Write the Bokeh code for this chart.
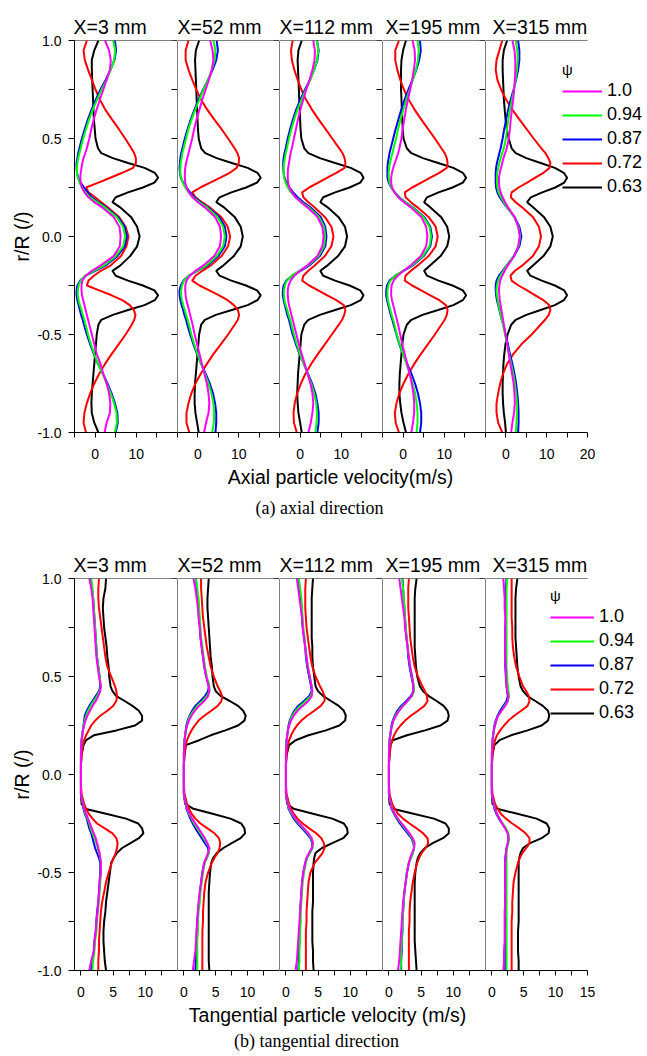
from bokeh.plotting import figure
from bokeh.models import (Range1d, LinearAxis, FixedTicker, NumeralTickFormatter,
                          CustomJSTickFormatter, Legend, LegendItem, Label, ColumnDataSource)
from bokeh.layouts import row, column
from bokeh.embed import file_html
from bokeh.resources import INLINE

SANS = "Liberation Sans"
SERIF = "Liberation Serif"

# ---------------- data ----------------
R = [1.0, 0.95, 0.9, 0.85, 0.8, 0.75, 0.7, 0.65, 0.6, 0.55, 0.5,
     0.45, 0.425, 0.4, 0.375, 0.35, 0.325, 0.3, 0.275, 0.25, 0.225, 0.2, 0.175, 0.15,
     0.1, 0.05, 0.0, -0.05, -0.1,
     -0.15, -0.175, -0.2, -0.225, -0.25, -0.275, -0.3, -0.325, -0.35, -0.375, -0.4, -0.425, -0.45,
     -0.5, -0.55, -0.6, -0.65, -0.7, -0.75, -0.8, -0.85, -0.9, -0.95, -1.0]

PSI = ["1.0", "0.94", "0.87", "0.72", "0.63"]
COLORS = ["#ff00ff", "#00ff00", "#0000ff", "#ff0000", "#000000"]
POSITIONS = ["X=3 mm", "X=52 mm", "X=112 mm", "X=195 mm", "X=315 mm"]

# ---- (a) axial particle velocity (m/s) ----
ax_x3_psi100 = [2.4, 3.4, 3.8, 3.6, 2.8, 2.0, 1.2, 0.4, -0.3, -0.9, -1.4, -2.0, -2.4, -2.8, -3.1, -3.3, -3.5, -3.6, -3.5, -3.2, -2.6, -1.6, -0.2, 1.6, 4.5, 5.9, 6.2,
                6.0, 4.5, 1.2, -0.8, -2.3, -3.1, -3.3, -3.3, -3.2, -2.9, -2.6, -2.3, -2.0, -1.7, -1.4, -0.8, -0.2, 0.4, 1.3, 2.0, 2.8, 3.4, 3.7, 3.6, 2.8, 2.3]
ax_x3_psi094 = [4.4, 4.9, 4.6, 3.8, 2.8, 1.6, 0.5, -0.5, -1.4, -2.2, -2.9, -3.5, -3.8, -4.1, -4.3, -4.4, -4.4, -4.2, -3.8, -3.2, -2.4, -1.2, 0.5, 2.3, 5.2, 6.8, 7.3,
                6.8, 5.0, 2.0, -0.3, -2.4, -3.5, -4.0, -4.2, -4.2, -4.0, -3.7, -3.3, -3.0, -2.6, -2.3, -1.7, -1.0, -0.2, 0.7, 1.8, 2.8, 3.8, 4.6, 5.2, 5.3, 4.8]
ax_x3_psi087 = [4.8, 5.1, 4.7, 3.7, 2.6, 1.3, 0.2, -0.8, -1.7, -2.5, -3.2, -3.8, -4.1, -4.3, -4.5, -4.5, -4.4, -4.1, -3.5, -2.7, -1.8, -0.8, 0.8, 2.6, 5.5, 7.2, 7.7,
                7.2, 5.4, 2.4, 0.0, -2.3, -3.6, -4.3, -4.5, -4.5, -4.3, -4.0, -3.7, -3.4, -3.0, -2.7, -2.0, -1.2, -0.3, 0.7, 1.9, 3.0, 4.0, 4.8, 5.4, 5.5, 5.0]
ax_x3_psi072 = [-2.0, -2.8, -2.5, -1.7, -0.8, 0.1, 1.1, 2.4, 4.0, 5.7, 7.3, 8.8, 9.5, 9.9, 9.9, 9.2, 6.6, 3.7, 0.8, -2.2, -1.6, 0.0, 1.5, 3.0, 5.8, 7.4, 8.1,
                7.6, 6.3, 3.6, 1.4, -0.3, -1.6, -2.0, 1.0, 4.0, 6.6, 8.4, 9.4, 9.8, 9.5, 8.9, 7.4, 5.7, 4.0, 2.4, 1.0, -0.2, -1.2, -2.0, -2.6, -2.8, -2.2]
ax_x3_psi063 = [0.8, -0.2, -0.8, -0.8, -0.7, -0.6, -0.5, -0.4, -0.3, -0.1, 0.1, 0.7, 1.5, 4.3, 8.0, 12.0, 14.5, 15.3, 14.4, 11.6, 8.0, 5.0, 4.2, 6.0, 8.7, 10.2, 10.8,
                10.2, 8.5, 6.0, 4.2, 5.0, 8.0, 11.6, 14.4, 15.3, 14.5, 12.0, 8.0, 4.3, 1.5, 0.8, 0.4, 0.2, 0.0, -0.2, -0.4, -0.6, -0.8, -0.9, -0.8, -0.2, 0.8]

ax_x52_psi100 = [3.0, 3.6, 3.8, 3.4, 2.7, 1.9, 1.1, 0.4, -0.3, -0.9, -1.4, -2.0, -2.3, -2.6, -2.9, -3.1, -3.2, -3.2, -3.1, -2.8, -2.2, -1.3, 0.0, 1.6, 4.2, 5.4, 5.7,
                 5.4, 4.0, 1.2, -0.6, -2.0, -2.8, -3.1, -3.1, -3.0, -2.8, -2.5, -2.2, -1.9, -1.6, -1.3, -0.8, -0.2, 0.4, 1.0, 1.6, 2.2, 2.6, 2.8, 2.6, 2.0, 1.5]
ax_x52_psi094 = [3.8, 4.3, 4.1, 3.4, 2.5, 1.4, 0.4, -0.6, -1.5, -2.3, -2.9, -3.5, -3.8, -4.0, -4.2, -4.3, -4.3, -4.1, -3.7, -3.1, -2.3, -1.2, 0.4, 2.1, 4.8, 6.2, 6.6,
                 6.2, 4.6, 1.9, -0.2, -2.2, -3.4, -3.9, -4.1, -4.1, -3.9, -3.6, -3.2, -2.9, -2.5, -2.2, -1.6, -0.9, -0.1, 0.8, 1.7, 2.6, 3.3, 3.8, 4.0, 3.9, 3.5]
ax_x52_psi087 = [4.6, 4.9, 4.5, 3.6, 2.5, 1.3, 0.2, -0.8, -1.7, -2.5, -3.2, -3.8, -4.1, -4.3, -4.4, -4.5, -4.4, -4.2, -3.6, -2.8, -1.9, -0.9, 0.7, 2.4, 5.2, 6.6, 7.0,
                 6.6, 5.0, 2.2, -0.1, -2.2, -3.5, -4.2, -4.5, -4.5, -4.3, -4.0, -3.6, -3.3, -2.9, -2.6, -1.9, -1.1, -0.2, 0.8, 1.9, 2.9, 3.7, 4.2, 4.5, 4.5, 4.3]
ax_x52_psi072 = [-2.3, -3.0, -3.0, -2.3, -1.4, -0.4, 0.7, 2.2, 3.9, 5.7, 7.4, 9.0, 9.7, 10.1, 10.0, 9.5, 7.8, 5.5, 3.0, 0.6, -1.4, -0.6, 1.0, 2.8, 5.7, 7.3, 7.9,
                 7.4, 5.8, 3.0, 1.1, -0.6, -1.4, 0.4, 2.8, 5.2, 7.3, 8.8, 9.8, 10.1, 9.8, 9.0, 7.4, 5.6, 3.8, 2.2, 0.7, -0.6, -1.6, -2.3, -2.8, -2.8, -2.1]
ax_x52_psi063 = [0.3, -0.5, -0.7, -0.6, -0.5, -0.4, -0.3, -0.2, -0.1, 0.0, 0.2, 0.8, 1.8, 4.6, 8.3, 12.2, 14.6, 15.4, 14.5, 11.8, 8.2, 5.3, 4.5, 6.3, 9.0, 10.5, 11.0,
                 10.5, 8.8, 6.1, 4.5, 5.3, 8.2, 11.8, 14.5, 15.4, 14.6, 12.2, 8.3, 4.4, 1.7, 0.8, 0.3, 0.1, -0.1, -0.3, -0.5, -0.7, -0.8, -0.8, -0.6, -0.2, 0.2]

ax_x112_psi100 = [3.2, 3.6, 3.5, 3.0, 2.3, 1.5, 0.8, 0.1, -0.5, -1.0, -1.5, -2.0, -2.3, -2.5, -2.7, -2.9, -3.0, -3.0, -2.9, -2.6, -2.0, -1.1, 0.2, 1.7, 4.2, 5.4, 5.7,
                  5.4, 4.2, 1.6, 0.0, -1.4, -2.3, -2.8, -3.0, -3.0, -2.9, -2.7, -2.4, -2.1, -1.8, -1.5, -0.9, -0.3, 0.4, 1.1, 1.8, 2.5, 3.0, 3.2, 3.0, 2.6, 2.0]
ax_x112_psi094 = [4.1, 4.4, 4.1, 3.4, 2.5, 1.4, 0.4, -0.6, -1.4, -2.1, -2.7, -3.2, -3.5, -3.7, -3.9, -4.0, -4.0, -3.9, -3.5, -3.0, -2.2, -1.1, 0.4, 2.0, 4.6, 5.8, 6.1,
                  5.8, 4.5, 1.8, -0.2, -2.0, -3.2, -3.7, -3.9, -3.9, -3.8, -3.5, -3.1, -2.8, -2.4, -2.1, -1.5, -0.8, 0.0, 0.9, 1.8, 2.7, 3.4, 3.9, 4.1, 4.0, 3.7]
ax_x112_psi087 = [4.1, 4.5, 4.2, 3.4, 2.4, 1.2, 0.1, -0.9, -1.7, -2.4, -3.0, -3.5, -3.8, -4.0, -4.1, -4.1, -4.0, -3.8, -3.3, -2.6, -1.7, -0.6, 0.8, 2.4, 5.0, 6.1, 6.4,
                  6.1, 4.8, 2.1, 0.1, -1.9, -3.3, -4.0, -4.2, -4.2, -4.0, -3.7, -3.4, -3.1, -2.7, -2.4, -1.8, -1.0, -0.1, 0.9, 1.9, 2.9, 3.7, 4.2, 4.5, 4.5, 4.2]
ax_x112_psi072 = [-1.8, -2.2, -2.0, -1.4, -0.6, 0.3, 1.4, 2.8, 4.4, 6.1, 7.8, 9.5, 10.3, 10.8, 11.0, 10.8, 8.8, 6.6, 4.4, 2.2, 0.5, 0.8, 2.0, 3.4, 6.0, 7.6, 8.1,
                  7.6, 6.0, 3.4, 2.0, 0.8, 0.5, 2.2, 4.4, 6.6, 8.8, 10.6, 11.0, 10.7, 10.2, 9.4, 7.7, 6.0, 4.3, 2.7, 1.3, 0.2, -0.7, -1.3, -1.6, -1.5, -0.8]
ax_x112_psi063 = [0.4, -0.4, -0.6, -0.5, -0.4, -0.3, -0.2, -0.1, 0.0, 0.1, 0.3, 1.0, 2.0, 4.8, 8.5, 12.3, 14.7, 15.4, 14.6, 12.0, 8.5, 5.6, 4.9, 6.6, 9.3, 10.9, 11.4,
                  10.9, 9.2, 6.5, 4.9, 5.6, 8.5, 12.0, 14.6, 15.4, 14.7, 12.3, 8.5, 4.8, 2.0, 1.0, 0.3, 0.1, -0.1, -0.3, -0.5, -0.6, -0.7, -0.6, -0.4, 0.0, 0.4]

ax_x195_psi100 = [2.3, 2.8, 2.9, 2.6, 2.2, 1.7, 1.2, 0.7, 0.3, -0.1, -0.4, -0.9, -1.2, -1.6, -2.0, -2.4, -2.7, -2.9, -2.9, -2.7, -2.1, -1.2, 0.2, 1.8, 4.4, 5.6, 5.9,
                  5.6, 4.3, 1.7, 0.1, -1.3, -2.3, -2.8, -2.9, -2.9, -2.7, -2.4, -2.1, -1.8, -1.5, -1.2, -0.7, -0.2, 0.4, 1.0, 1.6, 2.1, 2.5, 2.7, 2.7, 2.4, 2.0]
ax_x195_psi094 = [3.5, 3.8, 3.6, 3.1, 2.4, 1.6, 0.8, 0.1, -0.6, -1.2, -1.7, -2.3, -2.6, -2.9, -3.2, -3.4, -3.5, -3.5, -3.3, -2.9, -2.1, -1.0, 0.5, 2.2, 4.9, 6.4, 6.8,
                  6.4, 4.8, 2.0, 0.0, -1.9, -3.1, -3.6, -3.8, -3.8, -3.7, -3.4, -3.1, -2.8, -2.4, -2.1, -1.5, -0.8, 0.0, 0.8, 1.6, 2.3, 2.9, 3.3, 3.5, 3.5, 3.3]
ax_x195_psi087 = [4.1, 4.3, 3.9, 3.2, 2.3, 1.3, 0.4, -0.4, -1.1, -1.8, -2.4, -3.0, -3.3, -3.5, -3.7, -3.8, -3.8, -3.8, -3.5, -2.9, -2.0, -0.9, 0.6, 2.3, 5.1, 6.6, 7.0,
                  6.6, 5.0, 2.2, 0.1, -1.9, -3.3, -3.9, -4.1, -4.1, -3.9, -3.6, -3.3, -3.0, -2.6, -2.3, -1.6, -0.9, 0.0, 1.0, 2.0, 2.9, 3.6, 4.1, 4.4, 4.4, 4.1]
ax_x195_psi072 = [-1.0, -1.9, -1.9, -1.4, -0.7, 0.2, 1.3, 2.7, 4.3, 6.0, 7.7, 9.3, 10.1, 10.6, 10.8, 10.6, 8.8, 6.6, 4.4, 2.2, 0.4, 0.6, 1.9, 3.4, 6.2, 7.9, 8.4,
                  7.9, 6.2, 3.4, 1.9, 0.6, 0.4, 2.2, 4.4, 6.6, 8.8, 10.4, 10.8, 10.6, 10.1, 9.3, 7.7, 6.0, 4.3, 2.7, 1.3, 0.1, -0.9, -1.6, -2.0, -1.8, -1.0]
ax_x195_psi063 = [0.7, 0.0, -0.4, -0.5, -0.5, -0.5, -0.4, -0.3, -0.2, -0.1, 0.1, 0.9, 2.0, 4.8, 8.5, 12.2, 14.5, 15.3, 14.5, 12.0, 8.6, 5.8, 5.1, 6.5, 9.2, 10.7, 11.2,
                  10.7, 9.1, 6.4, 5.1, 5.8, 8.6, 12.0, 14.5, 15.3, 14.5, 12.2, 8.5, 4.7, 2.0, 0.9, 0.1, -0.2, -0.4, -0.6, -0.8, -0.9, -0.9, -0.7, -0.4, 0.1, 0.7]

ax_x315_psi100 = [1.6, 2.1, 2.3, 2.3, 2.2, 2.0, 1.8, 1.5, 1.2, 1.0, 0.7, 0.2, -0.2, -0.6, -0.9, -1.2, -1.5, -1.7, -1.7, -1.6, -1.3, -0.8, -0.2, 0.5, 2.1, 3.0, 3.4,
                  3.0, 2.0, 0.4, -0.3, -0.9, -1.4, -1.6, -1.7, -1.6, -1.5, -1.3, -1.1, -0.9, -0.7, -0.5, -0.1, 0.3, 0.7, 1.1, 1.5, 1.9, 2.1, 2.2, 2.0, 1.6, 1.3]
ax_x315_psi094 = [2.4, 2.8, 2.9, 2.7, 2.4, 2.0, 1.5, 1.0, 0.6, 0.3, 0.0, -0.5, -0.9, -1.3, -1.6, -1.9, -2.1, -2.2, -2.2, -2.1, -1.8, -1.2, -0.5, 0.3, 2.0, 3.1, 3.5,
                  3.1, 1.9, 0.2, -0.6, -1.4, -1.9, -2.2, -2.3, -2.2, -2.0, -1.8, -1.5, -1.3, -1.0, -0.7, -0.2, 0.3, 0.8, 1.3, 1.8, 2.2, 2.5, 2.7, 2.7, 2.6, 2.4]
ax_x315_psi087 = [3.0, 3.3, 3.3, 3.0, 2.5, 1.9, 1.2, 0.6, 0.1, -0.4, -0.8, -1.3, -1.6, -1.9, -2.2, -2.4, -2.5, -2.5, -2.5, -2.4, -2.1, -1.5, -0.7, 0.2, 2.1, 3.3, 3.8,
                  3.3, 2.0, 0.1, -0.8, -1.7, -2.3, -2.5, -2.5, -2.4, -2.2, -1.9, -1.6, -1.3, -1.0, -0.6, -0.1, 0.5, 1.0, 1.6, 2.1, 2.5, 2.8, 3.0, 3.1, 3.1, 3.0]
ax_x315_psi072 = [-0.9, -1.6, -2.3, -2.5, -2.1, -1.2, 0.0, 1.5, 3.2, 5.0, 6.8, 8.7, 9.7, 10.4, 10.9, 10.7, 9.2, 7.2, 5.2, 3.1, 1.4, 1.2, 2.4, 3.9, 6.6, 8.1, 8.6,
                  8.1, 6.6, 3.9, 2.2, 1.1, 1.4, 3.1, 5.2, 7.2, 9.2, 10.6, 10.9, 10.5, 9.6, 8.5, 6.3, 3.8, 1.8, 0.3, -0.7, -1.4, -1.9, -2.3, -2.3, -1.9, -0.9]
ax_x315_psi063 = [0.3, -0.5, -0.8, -0.8, -0.7, -0.6, -0.5, -0.3, -0.1, 0.2, 0.7, 1.4, 2.4, 5.0, 8.5, 12.0, 14.2, 15.0, 14.3, 12.1, 8.9, 6.1, 5.2, 6.6, 9.3, 10.9, 11.5,
                  10.9, 9.2, 6.5, 5.2, 6.0, 8.8, 12.0, 14.3, 15.0, 14.2, 12.0, 8.5, 5.0, 2.4, 1.3, 0.4, -0.1, -0.4, -0.6, -0.7, -0.8, -0.8, -0.7, -0.5, -0.2, 0.0]

# ---- (b) tangential particle velocity (m/s) ----
tg_x3_psi100 = [1.3, 1.6, 1.8, 1.9, 2.0, 2.1, 2.2, 2.3, 2.4, 2.6, 2.8, 3.1, 3.0, 2.7, 2.3, 1.8, 1.4, 1.0, 0.7, 0.5, 0.3, 0.2, 0.1, 0.05, 0.0, 0.0, 0.0,
                0.0, 0.0, 0.3, 0.5, 0.8, 1.1, 1.4, 1.7, 2.0, 2.3, 2.5, 2.7, 2.9, 3.0, 3.1, 3.1, 2.9, 2.8, 2.7, 2.6, 2.4, 2.3, 2.1, 2.0, 1.6, 1.3]
tg_x3_psi094 = [1.6, 1.8, 1.9, 2.0, 2.1, 2.2, 2.3, 2.4, 2.5, 2.7, 2.9, 3.1, 2.9, 2.5, 2.0, 1.5, 1.1, 0.8, 0.6, 0.4, 0.3, 0.2, 0.1, 0.05, 0.0, 0.0, 0.0,
                0.0, 0.0, 0.3, 0.5, 0.7, 1.0, 1.3, 1.5, 1.8, 2.1, 2.4, 2.6, 2.8, 3.0, 3.1, 3.1, 3.0, 2.9, 2.8, 2.6, 2.5, 2.4, 2.2, 2.1, 1.9, 1.8]
tg_x3_psi087 = [1.5, 1.7, 1.9, 2.0, 2.1, 2.2, 2.3, 2.4, 2.5, 2.7, 2.9, 3.0, 2.8, 2.3, 1.8, 1.3, 0.9, 0.6, 0.5, 0.4, 0.3, 0.2, 0.1, 0.05, 0.0, 0.0, 0.0,
                0.0, 0.0, 0.3, 0.4, 0.6, 0.9, 1.1, 1.3, 1.6, 1.8, 2.0, 2.2, 2.5, 2.8, 3.0, 3.0, 2.9, 2.8, 2.7, 2.5, 2.4, 2.3, 2.1, 2.0, 1.8, 1.6]
tg_x3_psi072 = [2.8, 2.7, 2.7, 2.8, 3.0, 3.2, 3.4, 3.6, 3.8, 4.1, 4.7, 5.3, 5.5, 5.6, 5.5, 5.0, 4.1, 3.0, 2.2, 1.6, 1.2, 0.8, 0.5, 0.3, 0.1, 0.0, 0.0,
                0.0, 0.1, 0.5, 0.8, 1.2, 1.8, 2.5, 3.7, 4.9, 5.5, 5.7, 5.6, 5.4, 5.1, 4.8, 4.3, 3.9, 3.6, 3.3, 3.1, 3.0, 2.9, 2.8, 2.8, 2.7, 2.7]
tg_x3_psi063 = [3.9, 3.8, 3.5, 3.4, 3.5, 3.6, 3.8, 4.0, 4.1, 4.3, 4.4, 4.6, 4.9, 5.5, 6.8, 8.0, 9.0, 9.5, 9.5, 8.4, 5.5, 2.0, 0.8, 0.4, 0.1, 0.0, 0.0,
                0.0, 0.0, 0.1, 0.6, 3.9, 7.0, 8.9, 9.5, 9.7, 9.0, 7.7, 6.4, 5.6, 5.1, 4.7, 4.5, 4.3, 4.1, 3.9, 3.8, 3.6, 3.5, 3.5, 3.6, 3.7, 3.9]

tg_x52_psi100 = [1.5, 1.8, 2.0, 2.2, 2.3, 2.5, 2.6, 2.8, 3.0, 3.2, 3.5, 3.9, 4.0, 3.8, 3.2, 2.4, 1.7, 1.2, 0.8, 0.5, 0.3, 0.2, 0.1, 0.05, 0.0, 0.0, 0.0,
                 0.0, 0.0, 0.3, 0.5, 0.9, 1.3, 1.8, 2.3, 2.8, 3.3, 3.7, 4.0, 3.8, 3.5, 3.2, 2.9, 2.7, 2.5, 2.3, 2.2, 2.1, 2.0, 1.9, 1.8, 1.6, 1.4]
tg_x52_psi094 = [1.9, 2.1, 2.3, 2.4, 2.5, 2.6, 2.7, 2.9, 3.1, 3.3, 3.6, 4.0, 4.0, 3.6, 2.9, 2.1, 1.5, 1.0, 0.7, 0.5, 0.3, 0.2, 0.1, 0.05, 0.0, 0.0, 0.0,
                 0.0, 0.0, 0.3, 0.5, 0.8, 1.2, 1.6, 2.1, 2.6, 3.1, 3.6, 4.0, 3.9, 3.6, 3.3, 3.0, 2.8, 2.6, 2.5, 2.3, 2.2, 2.2, 2.1, 2.1, 2.1, 2.1]
tg_x52_psi087 = [1.9, 2.0, 2.2, 2.3, 2.4, 2.5, 2.6, 2.8, 3.0, 3.2, 3.5, 3.9, 3.8, 3.3, 2.6, 1.8, 1.3, 0.9, 0.6, 0.4, 0.3, 0.2, 0.1, 0.05, 0.0, 0.0, 0.0,
                 0.0, 0.0, 0.3, 0.4, 0.7, 1.0, 1.4, 1.8, 2.3, 2.8, 3.3, 3.8, 3.9, 3.6, 3.2, 2.9, 2.7, 2.5, 2.4, 2.2, 2.1, 2.0, 2.0, 1.9, 1.9, 1.8]
tg_x52_psi072 = [2.7, 2.7, 2.8, 2.9, 3.0, 3.2, 3.4, 3.6, 3.9, 4.2, 4.7, 5.3, 5.7, 6.0, 5.9, 5.3, 4.3, 3.2, 2.3, 1.7, 1.2, 0.8, 0.5, 0.3, 0.1, 0.0, 0.0,
                 0.0, 0.1, 0.5, 0.8, 1.2, 1.8, 2.6, 3.7, 4.8, 5.5, 5.7, 5.6, 5.3, 4.8, 4.4, 3.8, 3.4, 3.2, 3.1, 3.0, 3.0, 2.9, 2.9, 2.9, 2.9, 2.9]
tg_x52_psi063 = [3.9, 3.8, 3.7, 3.7, 3.8, 3.9, 4.0, 4.1, 4.2, 4.4, 4.5, 4.7, 5.0, 5.8, 7.2, 8.5, 9.3, 9.7, 9.5, 8.5, 6.5, 4.2, 2.4, 0.3, 0.1, 0.0, 0.0,
                 0.0, 0.0, 0.2, 1.5, 4.5, 7.3, 9.0, 9.5, 9.6, 8.9, 7.5, 6.2, 5.2, 4.6, 4.3, 4.1, 4.0, 3.9, 3.9, 3.9, 3.9, 3.9, 3.9, 3.9, 3.9, 4.0]

tg_x112_psi100 = [1.7, 1.9, 2.1, 2.3, 2.5, 2.6, 2.8, 3.0, 3.2, 3.4, 3.7, 4.0, 4.1, 4.0, 3.5, 2.6, 1.8, 1.2, 0.8, 0.5, 0.3, 0.2, 0.1, 0.05, 0.0, 0.0, 0.0,
                  0.0, 0.0, 0.3, 0.6, 1.0, 1.5, 2.1, 2.8, 3.5, 4.0, 4.2, 4.0, 3.6, 3.2, 3.0, 2.7, 2.5, 2.4, 2.3, 2.2, 2.1, 2.0, 1.9, 1.8, 1.7, 1.5]
tg_x112_psi094 = [2.0, 2.2, 2.4, 2.5, 2.6, 2.7, 2.9, 3.0, 3.2, 3.4, 3.7, 4.0, 4.1, 3.8, 3.1, 2.2, 1.5, 1.0, 0.7, 0.5, 0.3, 0.2, 0.1, 0.05, 0.0, 0.0, 0.0,
                  0.0, 0.0, 0.3, 0.5, 0.9, 1.4, 2.0, 2.7, 3.4, 3.9, 4.2, 4.1, 3.7, 3.3, 3.1, 2.8, 2.6, 2.5, 2.4, 2.3, 2.3, 2.2, 2.2, 2.1, 2.1, 2.0]
tg_x112_psi087 = [2.0, 2.1, 2.3, 2.4, 2.5, 2.6, 2.8, 3.0, 3.1, 3.3, 3.6, 3.9, 4.0, 3.6, 2.8, 1.9, 1.3, 0.9, 0.6, 0.4, 0.3, 0.2, 0.1, 0.05, 0.0, 0.0, 0.0,
                  0.0, 0.0, 0.3, 0.4, 0.8, 1.2, 1.8, 2.5, 3.2, 3.8, 4.1, 4.1, 3.7, 3.3, 3.0, 2.7, 2.5, 2.4, 2.3, 2.2, 2.2, 2.1, 2.1, 2.0, 2.0, 1.9]
tg_x112_psi072 = [3.1, 3.0, 3.0, 3.0, 3.1, 3.2, 3.4, 3.6, 3.8, 4.1, 4.6, 5.3, 5.7, 6.0, 6.0, 5.4, 4.4, 3.3, 2.4, 1.7, 1.2, 0.8, 0.5, 0.3, 0.1, 0.0, 0.0,
                  0.0, 0.1, 0.5, 0.8, 1.2, 1.8, 2.6, 3.6, 4.7, 5.5, 5.9, 6.0, 5.7, 5.1, 4.5, 3.8, 3.5, 3.4, 3.3, 3.2, 3.2, 3.1, 3.1, 3.1, 3.1, 3.1]
tg_x112_psi063 = [4.2, 4.1, 4.0, 4.0, 4.0, 4.0, 4.0, 4.1, 4.1, 4.2, 4.4, 4.6, 5.0, 5.8, 7.0, 8.2, 9.0, 9.3, 9.2, 8.3, 6.2, 3.5, 1.5, 0.5, 0.1, 0.0, 0.0,
                  0.0, 0.0, 0.2, 1.2, 4.2, 7.2, 9.0, 9.5, 9.6, 8.9, 7.2, 5.6, 4.6, 4.4, 4.3, 4.2, 4.2, 4.2, 4.2, 4.1, 4.1, 4.1, 4.1, 4.2, 4.2, 4.3]

tg_x195_psi100 = [1.6, 1.8, 2.0, 2.2, 2.4, 2.5, 2.7, 2.9, 3.1, 3.3, 3.6, 3.8, 3.8, 3.5, 2.9, 2.2, 1.6, 1.1, 0.7, 0.5, 0.3, 0.2, 0.1, 0.05, 0.0, 0.0, 0.0,
                  0.0, 0.0, 0.3, 0.5, 0.9, 1.4, 2.0, 2.6, 3.2, 3.7, 4.0, 3.9, 3.6, 3.3, 3.1, 2.8, 2.6, 2.4, 2.2, 2.1, 2.0, 1.9, 1.8, 1.7, 1.6, 1.4]
tg_x195_psi094 = [2.0, 2.2, 2.3, 2.4, 2.5, 2.6, 2.8, 2.9, 3.1, 3.3, 3.6, 3.9, 3.9, 3.6, 2.9, 2.1, 1.5, 1.0, 0.7, 0.5, 0.3, 0.2, 0.1, 0.05, 0.0, 0.0, 0.0,
                  0.0, 0.0, 0.3, 0.5, 0.9, 1.3, 1.9, 2.5, 3.1, 3.6, 3.9, 3.9, 3.7, 3.4, 3.1, 2.8, 2.6, 2.4, 2.3, 2.2, 2.1, 2.0, 2.0, 1.9, 1.9, 1.8]
tg_x195_psi087 = [2.1, 2.2, 2.3, 2.4, 2.5, 2.6, 2.7, 2.9, 3.0, 3.2, 3.5, 3.8, 3.8, 3.4, 2.7, 1.9, 1.3, 0.9, 0.6, 0.4, 0.3, 0.2, 0.1, 0.05, 0.0, 0.0, 0.0,
                  0.0, 0.0, 0.3, 0.4, 0.8, 1.2, 1.7, 2.3, 2.9, 3.5, 3.8, 3.9, 3.7, 3.4, 3.1, 2.8, 2.6, 2.4, 2.3, 2.2, 2.1, 2.1, 2.0, 2.0, 1.9, 1.9]
tg_x195_psi072 = [3.1, 3.0, 3.0, 3.0, 3.1, 3.2, 3.3, 3.5, 3.7, 4.0, 4.5, 5.2, 5.6, 5.9, 6.0, 5.5, 4.5, 3.4, 2.5, 1.8, 1.2, 0.8, 0.5, 0.3, 0.1, 0.0, 0.0,
                  0.0, 0.1, 0.5, 0.9, 1.4, 2.2, 3.2, 4.3, 5.3, 6.0, 6.1, 5.7, 5.1, 4.7, 4.4, 4.0, 3.7, 3.5, 3.3, 3.2, 3.2, 3.1, 3.1, 3.1, 3.1, 3.1]
tg_x195_psi063 = [4.3, 4.1, 4.0, 4.0, 4.0, 4.0, 4.0, 4.0, 4.1, 4.2, 4.4, 4.8, 5.3, 6.2, 7.4, 8.5, 9.1, 9.3, 9.1, 8.0, 5.6, 2.8, 0.6, 0.2, 0.1, 0.0, 0.0,
                  0.0, 0.0, 0.1, 0.6, 3.8, 7.0, 8.8, 9.3, 9.3, 8.4, 6.8, 5.6, 4.9, 4.5, 4.3, 4.1, 4.0, 4.0, 4.0, 4.0, 4.0, 4.0, 4.0, 4.1, 4.2, 4.3]

tg_x315_psi100 = [1.8, 1.9, 2.0, 2.0, 2.1, 2.1, 2.1, 2.1, 2.1, 2.2, 2.2, 2.3, 2.4, 2.6, 2.5, 2.1, 1.5, 1.0, 0.7, 0.5, 0.3, 0.2, 0.1, 0.05, 0.0, 0.0, 0.0,
                  0.0, 0.0, 0.3, 0.5, 0.8, 1.2, 1.6, 2.1, 2.5, 2.6, 2.5, 2.3, 2.2, 2.2, 2.1, 2.1, 2.1, 2.1, 2.1, 2.0, 2.0, 2.0, 2.0, 1.9, 1.9, 1.8]
tg_x315_psi094 = [2.4, 2.3, 2.3, 2.3, 2.3, 2.3, 2.3, 2.3, 2.3, 2.3, 2.4, 2.5, 2.6, 2.7, 2.5, 2.0, 1.5, 1.0, 0.7, 0.5, 0.3, 0.2, 0.1, 0.05, 0.0, 0.0, 0.0,
                  0.0, 0.0, 0.3, 0.5, 0.8, 1.2, 1.7, 2.2, 2.6, 2.7, 2.6, 2.4, 2.3, 2.3, 2.3, 2.3, 2.3, 2.3, 2.3, 2.3, 2.3, 2.3, 2.3, 2.3, 2.3, 2.3]
tg_x315_psi087 = [2.3, 2.2, 2.2, 2.2, 2.2, 2.1, 2.1, 2.1, 2.1, 2.1, 2.2, 2.3, 2.4, 2.5, 2.3, 1.8, 1.3, 0.9, 0.6, 0.4, 0.3, 0.2, 0.1, 0.05, 0.0, 0.0, 0.0,
                  0.0, 0.0, 0.3, 0.4, 0.7, 1.1, 1.6, 2.1, 2.5, 2.6, 2.5, 2.3, 2.2, 2.1, 2.1, 2.1, 2.1, 2.1, 2.1, 2.1, 2.1, 2.1, 2.1, 2.1, 2.1, 2.1]
tg_x315_psi072 = [3.1, 3.1, 3.1, 3.1, 3.1, 3.2, 3.2, 3.3, 3.5, 3.8, 4.3, 4.9, 5.4, 5.8, 5.9, 5.6, 4.6, 3.5, 2.6, 1.9, 1.3, 0.8, 0.5, 0.3, 0.1, 0.0, 0.0,
                  0.0, 0.1, 0.5, 0.9, 1.4, 2.2, 3.2, 4.3, 5.3, 5.9, 5.9, 5.4, 4.8, 4.4, 4.1, 3.7, 3.4, 3.3, 3.2, 3.2, 3.1, 3.1, 3.1, 3.1, 3.1, 3.1]
tg_x315_psi063 = [4.0, 3.8, 3.7, 3.7, 3.7, 3.7, 3.7, 3.8, 3.9, 4.0, 4.2, 4.5, 4.9, 5.6, 6.8, 8.0, 8.8, 9.0, 8.8, 7.8, 5.6, 3.0, 1.2, 0.4, 0.1, 0.0, 0.0,
                  0.0, 0.0, 0.1, 0.8, 4.0, 7.0, 8.6, 9.0, 8.9, 7.8, 6.0, 4.9, 4.5, 4.3, 4.2, 4.2, 4.2, 4.2, 4.2, 4.2, 4.2, 4.1, 4.1, 4.1, 4.2, 4.2]

AXIAL = [
    [ax_x3_psi100, ax_x3_psi094, ax_x3_psi087, ax_x3_psi072, ax_x3_psi063],
    [ax_x52_psi100, ax_x52_psi094, ax_x52_psi087, ax_x52_psi072, ax_x52_psi063],
    [ax_x112_psi100, ax_x112_psi094, ax_x112_psi087, ax_x112_psi072, ax_x112_psi063],
    [ax_x195_psi100, ax_x195_psi094, ax_x195_psi087, ax_x195_psi072, ax_x195_psi063],
    [ax_x315_psi100, ax_x315_psi094, ax_x315_psi087, ax_x315_psi072, ax_x315_psi063],
]
TANGENTIAL = [
    [tg_x3_psi100, tg_x3_psi094, tg_x3_psi087, tg_x3_psi072, tg_x3_psi063],
    [tg_x52_psi100, tg_x52_psi094, tg_x52_psi087, tg_x52_psi072, tg_x52_psi063],
    [tg_x112_psi100, tg_x112_psi094, tg_x112_psi087, tg_x112_psi072, tg_x112_psi063],
    [tg_x195_psi100, tg_x195_psi094, tg_x195_psi087, tg_x195_psi072, tg_x195_psi063],
    [tg_x315_psi100, tg_x315_psi094, tg_x315_psi087, tg_x315_psi072, tg_x315_psi063],
]

# ---------------- layout helpers ----------------
FRAME_W = [103, 102, 103, 103, 102]
LAST_EXT = 58            # extra frame room right of the last sub-plot (legend)
FRAME_H = 392
TITLE_OFF = [-1, 0, 0, 3, 7]
Y_MAJOR = [-1.0, -0.5, 0.0, 0.5, 1.0]
Y_MINOR = [-0.75, -0.25, 0.25, 0.75]
BLANK = CustomJSTickFormatter(code="return ''")
TOTAL_W = 74 + sum(FRAME_W) + LAST_EXT


def make_panel(series, xr, x_major, x_minor, x_major_last, x_minor_last,
               legend_loc, legend_glyph_w, top_border):
    figs = []
    for i in range(5):
        last = (i == 4)
        fw = FRAME_W[i] + (LAST_EXT if last else 0)
        xend = xr[0] + (xr[1] - xr[0]) * fw / FRAME_W[i]
        p = figure(frame_width=fw, frame_height=FRAME_H,
                   x_range=Range1d(xr[0], xend), y_range=Range1d(-1, 1),
                   output_backend="svg", toolbar_location=None,
                   x_axis_location=None, y_axis_location=None,
                   min_border=0, min_border_left=(74 if i == 0 else 0),
                   min_border_right=0,
                   min_border_top=top_border, min_border_bottom=32,
                   outline_line_color=None, title=POSITIONS[i])
        p.xgrid.visible = False
        p.ygrid.visible = False
        p.title.text_font = SANS
        p.title.text_font_size = "19.5px"
        p.title.text_font_style = "normal"
        p.title.text_color = "black"
        p.title.align = "left"
        p.title.offset = TITLE_OFF[i]
        p.title.standoff = 6

        xb = LinearAxis(ticker=FixedTicker(ticks=(x_major_last if last else x_major),
                                           minor_ticks=(x_minor_last if last else x_minor)),
                        formatter=NumeralTickFormatter(format="0"),
                        bounds=(xr[0], xr[1]),
                        major_tick_out=5, major_tick_in=0, minor_tick_out=5, minor_tick_in=0,
                        major_label_text_font=SANS, major_label_text_font_size="14px",
                        major_label_text_color="black", major_label_standoff=11,
                        axis_line_color="black", major_tick_line_color="black",
                        minor_tick_line_color="black")
        p.add_layout(xb, "below")
        xa = LinearAxis(ticker=FixedTicker(ticks=[], minor_ticks=[]), fixed_location=1.0,
                        bounds=(xr[0], xr[1]),
                        major_tick_out=0, major_tick_in=0, minor_tick_out=0, minor_tick_in=0,
                        formatter=BLANK, axis_line_color="black")
        p.add_layout(xa, "above")

        if i == 0:
            yl = LinearAxis(ticker=FixedTicker(ticks=Y_MAJOR, minor_ticks=Y_MINOR),
                            formatter=NumeralTickFormatter(format="0.0"),
                            axis_label="r/R (/)",
                            major_tick_out=6, major_tick_in=0, minor_tick_out=6, minor_tick_in=0,
                            major_label_text_font=SANS, major_label_text_font_size="14px",
                            major_label_text_color="black", major_label_standoff=7,
                            axis_label_text_font=SANS, axis_label_text_font_size="19.5px",
                            axis_label_text_font_style="normal", axis_label_text_color="black",
                            axis_label_standoff=1, axis_line_color="black",
                            major_tick_line_color="black", minor_tick_line_color="black")
            p.add_layout(yl, "left")
        else:
            yl = LinearAxis(ticker=FixedTicker(ticks=[], minor_ticks=[]), fixed_location=xr[0],
                            major_tick_out=0, major_tick_in=0, minor_tick_out=0, minor_tick_in=0,
                            formatter=BLANK, axis_line_color="black")
            p.add_layout(yl, "left")
        if not last:
            yr = LinearAxis(ticker=FixedTicker(ticks=Y_MAJOR, minor_ticks=Y_MINOR),
                            fixed_location=xr[1], formatter=BLANK,
                            major_tick_out=0, major_tick_in=6, minor_tick_out=0, minor_tick_in=6,
                            major_label_standoff=0, axis_line_color="black",
                            major_tick_line_color="black", minor_tick_line_color="black")
            p.add_layout(yr, "right")

        rends = [None] * 5
        for j in [4, 3, 2, 1, 0]:
            src = ColumnDataSource(dict(v=series[i][j], r=R))
            rends[j] = p.line("v", "r", source=src, line_color=COLORS[j], line_width=2)

        if last:
            leg = Legend(items=[LegendItem(label=PSI[j], renderers=[rends[j]]) for j in range(5)],
                         location=legend_loc, title="\u03c8",
                         title_text_font=SANS, title_text_font_size="15px",
                         title_text_font_style="normal", title_text_color="black",
                         title_standoff=2,
                         label_text_font=SANS, label_text_font_size="18px",
                         label_text_color="black", label_standoff=5,
                         glyph_width=legend_glyph_w, glyph_height=20, label_height=20,
                         spacing=3, padding=0, margin=0,
                         border_line_color=None, background_fill_alpha=0)
            p.add_layout(leg, "center")
        figs.append(p)
    return row(*figs, spacing=0)


def label_strip(y_top, y_bot, labels):
    p = figure(frame_width=TOTAL_W, frame_height=y_bot - y_top,
               x_range=Range1d(0, TOTAL_W), y_range=Range1d(y_bot, y_top),
               output_backend="svg", toolbar_location=None,
               x_axis_location=None, y_axis_location=None,
               min_border=0, outline_line_color=None)
    p.xgrid.visible = False
    p.ygrid.visible = False
    for (x, y, txt, font, size) in labels:
        p.add_layout(Label(x=x, y=y, text=txt, text_font=font, text_font_size=size,
                           text_align="center", text_baseline="middle",
                           text_color="black"))
    return p


# panel (a): canvas 0..464, frame 40..432
panel_a = make_panel(AXIAL, (-5, 20), [0, 10], [-5, 5, 15, 20], [0, 10, 20], [-5, 5, 15],
                     (77, 235), 40, 40)
strip_a = label_strip(464, 546, [
    (340, 476.5, "Axial particle velocity(m/s)", SANS, "19.5px"),
    (319, 507, "(a) axial direction", SERIF, "18px"),
])
# panel (b): canvas 546..1002, frame 578..970
panel_b = make_panel(TANGENTIAL, (-1, 15), [0, 5, 10], [2.5, 7.5, 12.5, 15], [0, 5, 10, 15],
                     [2.5, 7.5, 12.5], (65, 247), 44, 32)
strip_b = label_strip(1002, 1052, [
    (327, 1014.5, "Tangential particle velocity (m/s)", SANS, "19.5px"),
    (316, 1040.5, "(b) tangential direction", SERIF, "18px"),
])

layout = column(panel_a, strip_a, panel_b, strip_b, spacing=0)

with open("out.html", "w") as f:
    f.write(file_html(layout, INLINE))
